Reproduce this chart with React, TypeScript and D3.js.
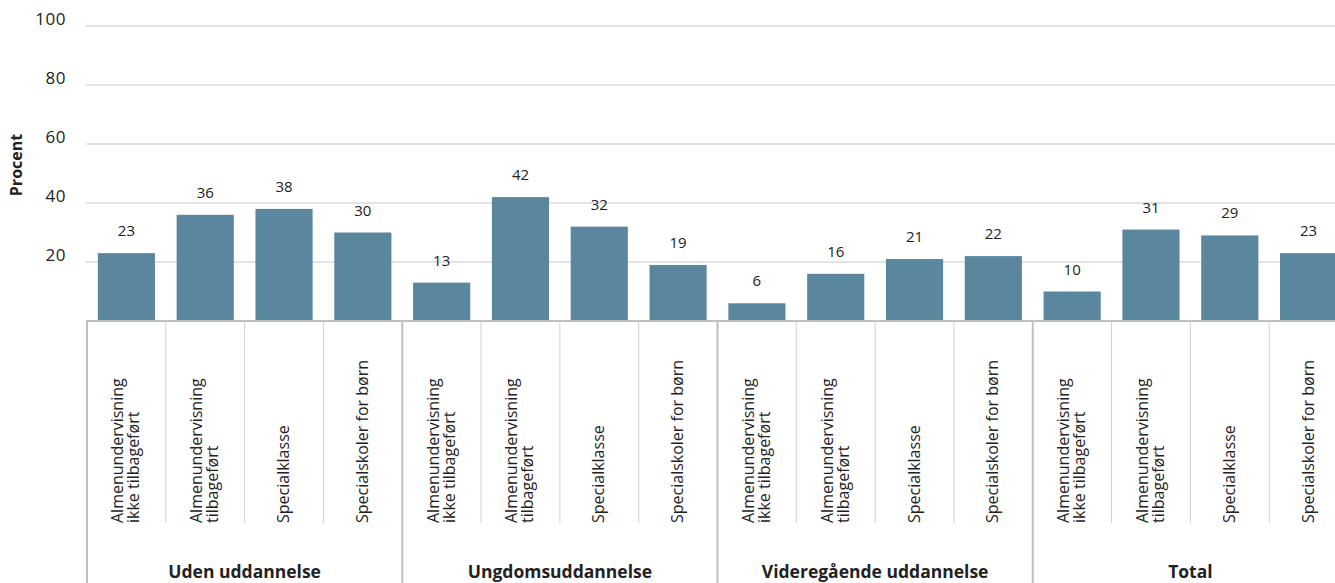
import React from "react";
import * as d3 from "d3";

const groups = ["Uden uddannelse", "Ungdomsuddannelse", "Videregående uddannelse", "Total"];
const subCategories = [
  ["Almenundervisning", "ikke tilbageført"],
  ["Almenundervisning", "tilbageført"],
  ["Specialklasse"],
  ["Specialskoler for børn"],
];
const values = [
  [23, 36, 38, 30],
  [13, 42, 32, 19],
  [6, 16, 21, 22],
  [10, 31, 29, 23],
];
const yTicks = [20, 40, 60, 80, 100];

const W = 1335;
const H = 583;
const FONT = "'Open Sans', 'Noto Sans', sans-serif";
const BAR = "#5a879e";
const GRID = "#c8c8c8";
const TEXT = "#222";

export default function App() {
  const keys: string[] = [];
  groups.forEach((g, gi) => subCategories.forEach((_, si) => keys.push(`${gi}-${si}`)));
  const x = d3.scaleBand<string>().domain(keys).range([87, 1348]).paddingInner(0).paddingOuter(0);
  const step = x.step();
  const barW = step * 0.725;
  const y = d3.scaleLinear().domain([0, 100]).range([321, 26]);
  const axisY = y(0);
  const minorBottom = 523;

  return (
    <svg width={W} height={H} style={{ position: "absolute", left: 0, top: 0, background: "#fff" }} fontFamily={FONT}>
      {yTicks.map((t) => (
        <g key={t}>
          <line x1={86} x2={W} y1={y(t)} y2={y(t)} stroke={GRID} strokeWidth={1} />
          <text x={66} y={y(t) - 6} textAnchor="end" dominantBaseline="middle" fontSize={17} fill={TEXT} letterSpacing={0.5}>
            {t}
          </text>
        </g>
      ))}
      <text transform={`translate(22,165) rotate(-90)`} textAnchor="middle" fontSize={16} fontWeight="bold" fill={TEXT}>
        Procent
      </text>
      {groups.map((g, gi) =>
        values[gi].map((v, si) => {
          const k = `${gi}-${si}`;
          const cx = (x(k) as number) + step / 2;
          return (
            <g key={k}>
              <rect x={cx - barW / 2} y={y(v)} width={barW} height={axisY - y(v)} fill={BAR} />
              <text x={cx} y={y(v) - 21} textAnchor="middle" dominantBaseline="middle" fontSize={15} fill={TEXT}>
                {v}
              </text>
            </g>
          );
        })
      )}
      <line x1={86} x2={W} y1={axisY} y2={axisY} stroke="#c0c0c0" strokeWidth={2} />
      {keys.map((k, i) => {
        const x0 = x(k) as number;
        const isGroup = i % 4 === 0;
        return (
          <line
            key={"sep" + k}
            x1={x0}
            x2={x0}
            y1={axisY}
            y2={isGroup ? H : minorBottom}
            stroke={isGroup ? "#c0c0c0" : "#d0d0d0"}
            strokeWidth={isGroup ? 2 : 1}
          />
        );
      })}
      {groups.map((g, gi) =>
        subCategories.map((lines, si) => {
          const k = `${gi}-${si}`;
          const cx = (x(k) as number) + step / 2;
          const lh = 16;
          return (
            <text
              key={"lab" + k}
              transform={`translate(${cx},${minorBottom}) rotate(-90)`}
              textAnchor="start"
              fontSize={16}
              fill={TEXT}
            >
              {lines.map((ln, li) => (
                <tspan key={li} x={0} y={(li - (lines.length - 1) / 2) * lh + 5}>
                  {ln}
                </tspan>
              ))}
            </text>
          );
        })
      )}
      {groups.map((g, gi) => {
        const x0 = x(`${gi}-0`) as number;
        const cx = x0 + step * 2;
        return (
          <text key={"g" + gi} x={cx} y={578} textAnchor="middle" fontSize={17.5} fontWeight="bold" fill={TEXT}>
            {g}
          </text>
        );
      })}
    </svg>
  );
}
